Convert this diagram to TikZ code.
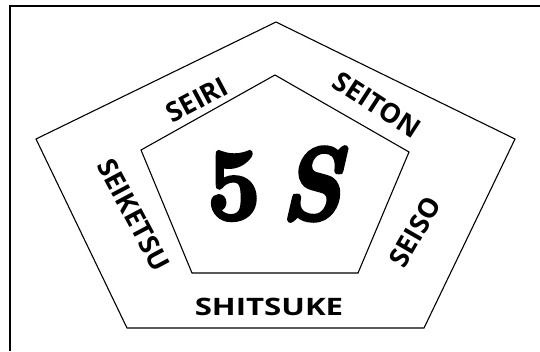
\documentclass[tikz,border=0pt]{standalone}
\usepackage{fontspec}
\newfontfamily\labelfont{Open Sans}
\newfontfamily\bigfont{Latin Modern Roman}[FakeBold=4]

\begin{document}
\begin{tikzpicture}[x=1pt, y=-1pt, every node/.style={font=\labelfont\bfseries\fontsize{27}{27}\selectfont, inner sep=0pt}]
	\useasboundingbox (0,0) rectangle (540,351);
	\draw[line width=2pt] (10,351) -- (10,6) -- (541,6);
	\draw[line width=1.1pt] (276,22) -- (515,139) -- (424,328) -- (127,328) -- (36,139) -- cycle;
	\draw[line width=1.1pt] (275,75) -- (409,152) -- (358,273) -- (192,273) -- (141,150) -- cycle;
	\node[rotate=28] (seiri) at (197,100) {SEIRI};
	\node[rotate=-33] (seiton) at (377,105) {SEITON};
	\node[rotate=60] (seiso) at (415,232) {SEISO};
	\node[rotate=-62] (seiketsu) at (134,215) {SEIKETSU};
	\node[font=\labelfont\bfseries\fontsize{24}{24}\selectfont, xscale=1.3] (shitsuke) at (269,307) {SHITSUKE};
	\node[font=\bigfont\bfseries\fontsize{102}{102}\selectfont, xscale=0.92] (fives) at (277,184) {5\hspace{22pt}\textit{S}};
\end{tikzpicture}
\end{document}
